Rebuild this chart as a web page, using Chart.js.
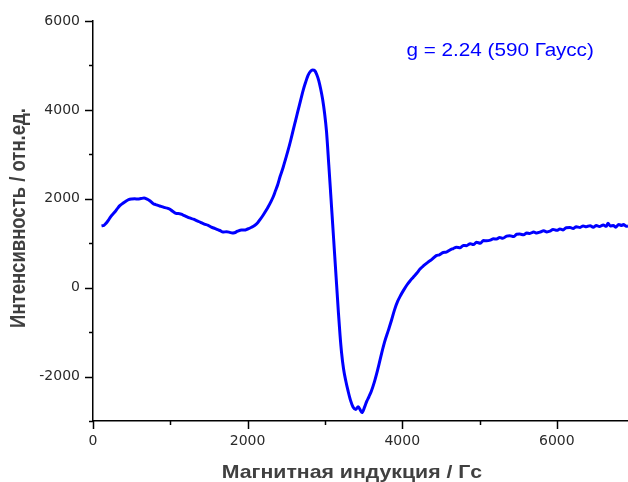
<!DOCTYPE html>
<html>
<head>
<meta charset="utf-8">
<script src="https://cdn.jsdelivr.net/npm/chart.js@4"></script>
<style>
  html, body { margin: 0; padding: 0; background: #fff; overflow: hidden; }
  #wrap { width: 628px; height: 482px; position: relative; }
</style>
</head>
<body>
<div id="wrap"><canvas id="epr"></canvas></div>
<script>
"use strict";

// magnetic field, Gauss
const field = [
  110, 140, 170, 200, 230, 260, 290, 320, 350, 380, 420, 460, 500, 540, 580, 620, 660, 700, 730,
  780, 810, 840, 880, 930, 960, 990, 1030, 1080, 1120, 1160, 1210, 1250, 1300, 1340, 1390, 1440,
  1490, 1530, 1580, 1620, 1650, 1680, 1730, 1770, 1800, 1830, 1870, 1920, 1960, 2000, 2050, 2090,
  2130, 2160, 2200, 2240, 2270, 2300, 2330, 2360, 2390, 2420, 2460, 2490, 2520, 2555, 2590, 2620,
  2650, 2690, 2720, 2750, 2780, 2810, 2840, 2870, 2895, 2920, 2945, 2970, 2995, 3020, 3050, 3075,
  3100, 3125, 3150, 3175, 3195, 3215, 3240, 3270, 3300, 3330, 3365, 3400, 3430, 3460, 3480, 3510,
  3540, 3570, 3600, 3640, 3670, 3700, 3730, 3770, 3820, 3860, 3900, 3940, 3980, 4020, 4060, 4100,
  4140, 4190, 4230, 4280, 4330, 4380, 4440, 4480, 4530, 4570, 4620, 4660, 4700, 4750, 4790, 4830,
  4880, 4920, 4960, 5010, 5050, 5090, 5140, 5180, 5220, 5260, 5300, 5350, 5390, 5440, 5480, 5520,
  5570, 5610, 5650, 5700, 5740, 5780, 5830, 5870, 5910, 5950, 6000, 6040, 6080, 6120, 6170, 6210,
  6250, 6300, 6340, 6380, 6430, 6470, 6510, 6550, 6600, 6640, 6660, 6690, 6730, 6760, 6800, 6840,
  6860, 6900, 6920
];

// intensity, arb. units
const intensity = [
  1390, 1400, 1450, 1520, 1600, 1660, 1720, 1790, 1850, 1890, 1940, 1980, 1995, 2000, 1995, 2005, 2015, 1990, 1960,
  1890, 1870, 1850, 1830, 1800, 1790, 1770, 1720, 1670, 1665, 1640, 1600, 1570, 1540, 1510, 1470, 1430,
  1400, 1360, 1330, 1300, 1280, 1250, 1260, 1245, 1230, 1235, 1270, 1300, 1295, 1320, 1360, 1400,
  1460, 1530, 1630, 1740, 1830, 1930, 2040, 2180, 2320, 2500, 2710, 2890, 3070, 3300, 3550, 3760,
  3970, 4250, 4450, 4620, 4770, 4860, 4900, 4880, 4790, 4660, 4470, 4240, 3930, 3520, 2760, 2100,
  1430, 760, 90, -580, -1060, -1460, -1820, -2100, -2330, -2530, -2690, -2740, -2680, -2760, -2810, -2700,
  -2560, -2450, -2330, -2120, -1930, -1720, -1500, -1230, -960, -740, -500, -310, -170, -50, 60, 150,
  230, 330, 420, 500, 570, 630, 720, 740, 790, 800, 850, 880, 910, 900, 950, 945,
  990, 970, 1020, 1000, 1060, 1055, 1070, 1100, 1095, 1130, 1110, 1160, 1170, 1150, 1200, 1205,
  1190, 1230, 1220, 1250, 1230, 1250, 1280, 1255, 1270, 1310, 1290, 1320, 1300, 1350, 1355, 1330,
  1370, 1355, 1390, 1370, 1395, 1360, 1400, 1375, 1410, 1380, 1450, 1390, 1400, 1360, 1420, 1400,
  1420, 1380, 1390
];

const xTickValues = [0, 1000, 2000, 3000, 4000, 5000, 6000];
const xTicks = [0, 2000, 4000, 6000];
const yTickValues = [-3000, -2000, -1000, 0, 1000, 2000, 3000, 4000, 5000, 6000];
const yTicks = [-2000, 0, 2000, 4000, 6000];
const xTitle = 'Магнитная индукция / Гс';
const yTitle = 'Интенсивность / отн.ед.';
const note = 'g = 2.24 (590 Гаусс)';
const noteAt = { x: 4054, y: 5220 };

const tickFont = { family: "'DejaVu Sans', Verdana, sans-serif", size: 14 };
const SANS = "'Liberation Sans', Arial, sans-serif";
const WIDEN = 1.15; // the source picture is a little wider than tall

function wideText(ctx, text, x, y, font, color, align, rotate) {
  ctx.save();
  ctx.translate(x, y);
  if (rotate) { ctx.rotate(-Math.PI / 2); ctx.scale(1, WIDEN); }
  else ctx.scale(WIDEN, 1);
  ctx.font = font;
  ctx.fillStyle = color;
  ctx.textAlign = align;
  ctx.textBaseline = 'alphabetic';
  ctx.fillText(text, 0, 0);
  ctx.restore();
}

// tick marks (long on labelled values, short between), titles, note
const decorations = {
  id: 'decorations',
  afterDraw(chart) {
    const { ctx, chartArea, scales } = chart;
    ctx.save();
    ctx.strokeStyle = '#000';
    ctx.lineWidth = 1.5;
    scales.x.ticks.forEach(t => {
      const px = Math.round(scales.x.getPixelForValue(t.value)) + 0.5;
      const len = xTicks.includes(t.value) ? 8 : 4;
      ctx.beginPath();
      ctx.moveTo(px, chartArea.bottom);
      ctx.lineTo(px, chartArea.bottom + len);
      ctx.stroke();
    });
    scales.y.ticks.forEach(t => {
      const py = Math.round(scales.y.getPixelForValue(t.value)) + 0.5;
      const len = yTicks.includes(t.value) ? 8 : 4;
      ctx.beginPath();
      ctx.moveTo(chartArea.left, py);
      ctx.lineTo(chartArea.left - len, py);
      ctx.stroke();
    });
    ctx.restore();

    wideText(ctx, xTitle, 352, 477.5, 'bold 18.5px ' + SANS, '#404040', 'center', false);
    wideText(ctx, yTitle, 25, 218, 'bold 18.5px ' + SANS, '#404040', 'center', true);
    wideText(ctx, note, scales.x.getPixelForValue(noteAt.x), scales.y.getPixelForValue(noteAt.y),
      '18px ' + SANS, '#0000ff', 'left', false);
  }
};

new Chart(document.getElementById('epr'), {
  type: 'line',
  data: {
    datasets: [{
      data: field.map((f, i) => ({ x: f, y: intensity[i] })),
      borderColor: '#0000ff',
      borderWidth: 3,
      pointRadius: 0,
      cubicInterpolationMode: 'monotone',
      fill: false
    }]
  },
  options: {
    responsive: true,
    maintainAspectRatio: false,
    animation: false,
    layout: { autoPadding: false, padding: { top: 21, right: 0, bottom: 0, left: 0 } },
    plugins: { legend: { display: false }, tooltip: { enabled: false } },
    scales: {
      x: {
        type: 'linear',
        min: 0,
        max: 6920,
        afterFit: s => { s.height = 61; },
        afterBuildTicks: s => { s.ticks = xTickValues.map(v => ({ value: v })); },
        border: { display: true, color: '#000', width: 1.5 },
        grid: { display: true, drawOnChartArea: false, drawTicks: true, tickLength: 8, color: 'rgba(0,0,0,0)' },
        ticks: {
          autoSkip: false,
          maxRotation: 0,
          padding: 4,
          color: '#2a2a2a',
          font: tickFont,
          callback: v => xTicks.includes(v) ? String(v) : ''
        },
        title: { display: false }
      },
      y: {
        min: -3000,
        max: 6000,
        afterFit: s => { s.width = 93; },
        afterBuildTicks: s => { s.ticks = yTickValues.map(v => ({ value: v })); },
        border: { display: true, color: '#000', width: 1.5 },
        grid: { display: true, drawOnChartArea: false, drawTicks: true, tickLength: 8, color: 'rgba(0,0,0,0)' },
        ticks: {
          autoSkip: false,
          padding: 5,
          color: '#2a2a2a',
          font: tickFont,
          callback: v => yTicks.includes(v) ? String(v) : ''
        },
        title: { display: false }
      }
    }
  },
  plugins: [decorations]
});
</script>
</body>
</html>
